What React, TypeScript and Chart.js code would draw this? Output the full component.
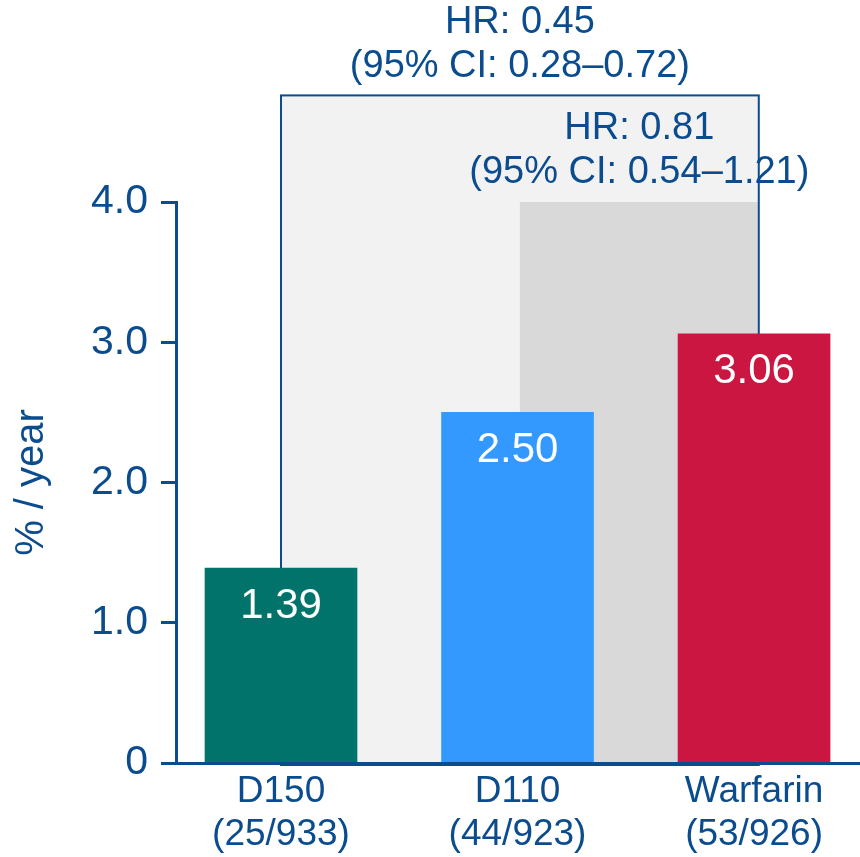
import { useEffect, useRef } from "react";
import { Chart, registerables } from "chart.js";

Chart.register(...registerables);

// Annualised event rate per treatment arm
const categories = ["D150", "D110", "Warfarin"];
const eventCounts = ["(25/933)", "(44/923)", "(53/926)"];
const ratePerYear = [1.39, 2.5, 3.06];
const barColors = ["#02736b", "#3399ff", "#cc1642"];
const rateLabels = ["1.39", "2.50", "3.06"];

// Hazard-ratio comparisons shown above the bars (outer box first)
const hazardRatios = ["HR: 0.45", "HR: 0.81"];
const confidenceIntervals = ["(95% CI: 0.28–0.72)", "(95% CI: 0.54–1.21)"];

const INK = "#0b4c8e";
const FONT = '"Liberation Sans", Arial, sans-serif';

const comparisonPlugin = {
  id: "comparisonBoxes",
  beforeDatasetsDraw(chart: any) {
    const { ctx } = chart;
    const x = chart.scales.x;
    const y = chart.scales.y;
    const right = x.getPixelForValue(2.02);
    const bottom = y.getPixelForValue(0) + 2;
    const outerLeft = x.getPixelForValue(0);
    const outerTop = y.getPixelForValue(4.76);
    const innerLeft = x.getPixelForValue(1.01);
    const innerTop = y.getPixelForValue(4);

    ctx.save();
    ctx.fillStyle = "#f2f2f2";
    ctx.fillRect(outerLeft, outerTop, right - outerLeft, bottom - outerTop);
    ctx.fillStyle = "#d9d9d9";
    ctx.fillRect(innerLeft, innerTop, right - 1 - innerLeft, bottom - innerTop);

    ctx.font = `38px ${FONT}`;
    ctx.fillStyle = INK;
    ctx.textAlign = "center";
    ctx.textBaseline = "middle";
    const blocks = [
      { cx: (outerLeft + right) / 2, top: outerTop },
      { cx: (innerLeft + right) / 2, top: innerTop },
    ];
    blocks.forEach((b, i) => {
      ctx.fillText(hazardRatios[i], b.cx, b.top - 73);
      ctx.fillText(confidenceIntervals[i], b.cx, b.top - 29);
    });

    ctx.strokeStyle = INK;
    ctx.lineWidth = 2;
    ctx.strokeRect(outerLeft, outerTop, right - outerLeft, bottom - outerTop);
    ctx.restore();
  },
  afterDatasetsDraw(chart: any) {
    const { ctx } = chart;
    const meta = chart.getDatasetMeta(0);
    ctx.save();
    ctx.font = `42px ${FONT}`;
    ctx.fillStyle = "#ffffff";
    ctx.textAlign = "center";
    ctx.textBaseline = "middle";
    meta.data.forEach((bar: any, i: number) => {
      ctx.fillText(rateLabels[i], bar.x, bar.y + 38);
    });
    ctx.restore();
  },
};

export default function App() {
  const canvasRef = useRef<HTMLCanvasElement | null>(null);

  useEffect(() => {
    const canvas = canvasRef.current;
    if (!canvas) return;
    const chart = new Chart(canvas, {
      type: "bar",
      data: {
        datasets: [
          {
            data: ratePerYear.map((v, i) => ({ x: i, y: v })),
            backgroundColor: barColors,
            borderWidth: 0,
            barThickness: 152,
          },
        ],
      },
      options: {
        animation: false,
        responsive: false,
        maintainAspectRatio: false,
        layout: { padding: { top: 202, right: 0, left: 0, bottom: 0 } },
        plugins: {
          legend: { display: false },
          tooltip: { enabled: false },
        },
        scales: {
          x: {
            type: "linear",
            min: -0.444,
            max: 2.448,
            offset: false,
            afterBuildTicks: (scale: any) => {
              scale.ticks = categories.map((_, i) => ({ value: i }));
            },
            afterFit: (scale: any) => {
              scale.height = 94;
            },
            ticks: {
              autoSkip: false,
              maxRotation: 0,
              padding: 7,
              color: INK,
              font: { family: FONT, size: 37, lineHeight: 1.17 },
              callback: (v: any) => [categories[v], eventCounts[v]],
            },
            grid: { display: true, drawOnChartArea: false, drawTicks: false },
            border: { display: true, color: INK, width: 3, z: 1 },
          },
          y: {
            min: 0,
            max: 4,
            afterFit: (scale: any) => {
              scale.width = 176;
            },
            ticks: {
              stepSize: 1,
              padding: 13,
              color: INK,
              font: { family: FONT, size: 41 },
              callback: (v: any) => (v === 0 ? "0" : Number(v).toFixed(1)),
            },
            grid: {
              drawOnChartArea: false,
              drawTicks: true,
              tickLength: 15,
              tickWidth: 3,
              tickColor: INK,
            },
            border: { display: true, color: INK, width: 3, z: 1 },
            title: {
              display: true,
              text: "% / year",
              color: INK,
              font: { family: FONT, size: 40 },
              padding: { top: 8, bottom: 0 },
            },
          },
        },
      },
      plugins: [comparisonPlugin],
    } as any);
    return () => chart.destroy();
  }, []);

  return (
    <div style={{ position: "absolute", left: 0, top: 0, width: 860, height: 857 }}>
      <canvas ref={canvasRef} width={860} height={857} />
    </div>
  );
}
